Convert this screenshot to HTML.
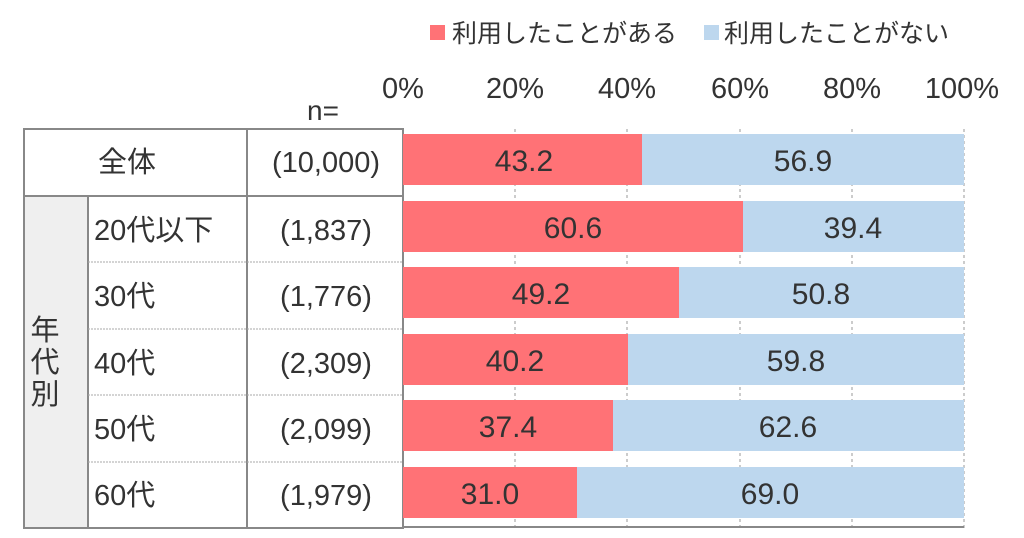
<!DOCTYPE html>
<html><head><meta charset="utf-8"><style>
body{margin:0;width:1024px;height:538px;background:#fff;overflow:hidden;font-family:"Liberation Sans","Noto Sans CJK JP",sans-serif;color:#333}
.a{position:absolute}
</style></head><body>
<svg class="a" style="left:0;top:0" width="1024" height="538" font-family="Liberation Sans, Noto Sans CJK JP, sans-serif" fill="#333">
<rect x="430" y="25" width="15" height="15" fill="#ff7276"/>
<text x="452" y="42" font-size="25">利用したことがある</text>
<rect x="704" y="25" width="15" height="15" fill="#bdd7ee"/>
<text x="724" y="42" font-size="25">利用したことがない</text>
<g font-size="29" text-anchor="middle">
<text x="403" y="98">0%</text><text x="515" y="98">20%</text><text x="627" y="98">40%</text><text x="740" y="98">60%</text><text x="852" y="98">80%</text><text x="962" y="98">100%</text>
</g>
<text x="323" y="120" font-size="28" text-anchor="middle">n=</text>
<rect x="24" y="196" width="64" height="332" fill="#efefef"/>
<g stroke="#888" stroke-width="2" fill="none">
<rect x="24" y="129" width="379" height="399"/>
<line x1="247" y1="129" x2="247" y2="528"/>
<line x1="24" y1="196" x2="403" y2="196"/>
<line x1="88" y1="196" x2="88" y2="528"/>
</g>
<g stroke="#aaa" stroke-width="1" stroke-dasharray="2,1">
<line x1="88" y1="262" x2="403" y2="262"/><line x1="88" y1="329" x2="403" y2="329"/><line x1="88" y1="395" x2="403" y2="395"/><line x1="88" y1="462" x2="403" y2="462"/>
</g>
<g font-size="29">
<text x="127" y="172" text-anchor="middle">全体</text>
<text x="94" y="240">20代以下</text><text x="94" y="306">30代</text><text x="94" y="373">40代</text><text x="94" y="439">50代</text><text x="94" y="505">60代</text>
<text x="326" y="172" text-anchor="middle">(10,000)</text>
<text x="326" y="240" text-anchor="middle">(1,837)</text><text x="326" y="306" text-anchor="middle">(1,776)</text><text x="326" y="373" text-anchor="middle">(2,309)</text><text x="326" y="439" text-anchor="middle">(2,099)</text><text x="326" y="505" text-anchor="middle">(1,979)</text>
<text x="45" y="340" text-anchor="middle">年</text><text x="45" y="372" text-anchor="middle">代</text><text x="45" y="404" text-anchor="middle">別</text>
</g>
<g stroke="#999" stroke-width="1" stroke-dasharray="3,3">
<line x1="515" y1="129" x2="515" y2="528"/><line x1="627" y1="129" x2="627" y2="528"/><line x1="740" y1="129" x2="740" y2="528"/><line x1="852" y1="129" x2="852" y2="528"/><line x1="964" y1="129" x2="964" y2="528"/>
</g>
<line x1="403" y1="527" x2="964" y2="527" stroke="#888" stroke-width="2"/>
<g font-size="30" text-anchor="middle">
<rect x="403" y="134" width="239" height="51" fill="#ff7276"/><rect x="642" y="134" width="322" height="51" fill="#bdd7ee"/>
<text x="524" y="171">43.2</text><text x="803" y="171">56.9</text>
<rect x="403" y="201" width="340" height="51" fill="#ff7276"/><rect x="743" y="201" width="221" height="51" fill="#bdd7ee"/>
<text x="573" y="238">60.6</text><text x="853" y="238">39.4</text>
<rect x="403" y="267" width="276" height="51" fill="#ff7276"/><rect x="679" y="267" width="285" height="51" fill="#bdd7ee"/>
<text x="541" y="304">49.2</text><text x="821" y="304">50.8</text>
<rect x="403" y="334" width="225" height="51" fill="#ff7276"/><rect x="628" y="334" width="336" height="51" fill="#bdd7ee"/>
<text x="515" y="371">40.2</text><text x="796" y="371">59.8</text>
<rect x="403" y="400" width="210" height="51" fill="#ff7276"/><rect x="613" y="400" width="351" height="51" fill="#bdd7ee"/>
<text x="508" y="437">37.4</text><text x="788" y="437">62.6</text>
<rect x="403" y="467" width="174" height="51" fill="#ff7276"/><rect x="577" y="467" width="387" height="51" fill="#bdd7ee"/>
<text x="490" y="504">31.0</text><text x="770" y="504">69.0</text>
</g>
</svg>
</body></html>
